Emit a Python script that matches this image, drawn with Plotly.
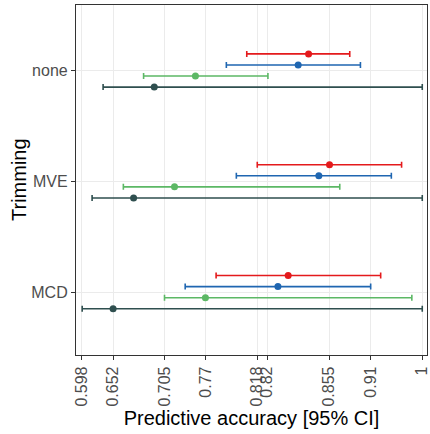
import plotly.graph_objects as go

# Categories (bottom to top)
categories = ["MCD", "MVE", "none"]

# Series names and colours
series = ["s1", "s2", "s3", "s4"]
colors = ["#E41A1C", "#1F66B1", "#5CB865", "#2F4F4F"]

# Point estimates per series, order MCD, MVE, none
est = {
    "s1": [0.8417, 0.8905, 0.8658],
    "s2": [0.8296, 0.8779, 0.8535],
    "s3": [0.7440, 0.7075, 0.7322],
    "s4": [0.6350, 0.6592, 0.6836],
}
lower = {
    "s1": [0.7566, 0.8052, 0.7928],
    "s2": [0.7201, 0.7805, 0.7687],
    "s3": [0.6957, 0.6471, 0.6710],
    "s4": [0.5985, 0.6102, 0.6232],
}
upper = {
    "s1": [0.9509, 0.9756, 0.9144],
    "s2": [0.9391, 0.9635, 0.9270],
    "s3": [0.9877, 0.9026, 0.8178],
    "s4": [1.0, 1.0, 1.0],
}

# x tick positions and labels as displayed
tick_vals = [0.598, 0.635, 0.696, 0.744, 0.805, 0.817, 0.890, 0.939, 1.0]
tick_text = ["0.598", "0.652", "0.705", "0.77", "0.818", "0.82", "0.855", "0.91", "1"]

dodge = 0.1
fig = go.Figure()
n = len(series)
for i, s in enumerate(series):
    off = ((n - 1) / 2 - i) * dodge
    ys = [k + 1 + off for k in range(len(categories))]
    fig.add_trace(go.Scatter(
        x=est[s], y=ys, mode="markers",
        marker=dict(color=colors[i], size=7),
        error_x=dict(type="data", symmetric=False,
                     array=[u - e for u, e in zip(upper[s], est[s])],
                     arrayminus=[e - l for e, l in zip(est[s], lower[s])],
                     color=colors[i], thickness=1.6, width=3),
        showlegend=False, hoverinfo="skip", cliponaxis=False,
    ))

font = "Liberation Sans, Arial, sans-serif"
fig.update_layout(
    width=430, height=434,
    margin=dict(l=76, r=3, t=5, b=79),
    paper_bgcolor="white", plot_bgcolor="white",
    font=dict(family=font, color="#000000"),
    xaxis=dict(
        range=[0.5912, 1.0056], tickvals=tick_vals, ticktext=tick_text,
        tickangle=-90, tickfont=dict(size=16, color="#4D4D4D", family=font),
        ticklabeloverflow="allow",
        ticks="outside", ticklen=4, tickcolor="#333333", tickwidth=1,
        showgrid=True, gridcolor="#EBEBEB", gridwidth=1,
        showline=True, linecolor="#333333", linewidth=1.2, mirror=True,
        zeroline=False, automargin=False,
        title=dict(text="Predictive accuracy [95% CI]", font=dict(size=20, family=font), standoff=2),
    ),
    yaxis=dict(
        range=[0.433, 3.591], tickvals=[1, 2, 3], ticktext=categories,
        tickfont=dict(size=16, color="#4D4D4D", family=font),
        ticks="outside", ticklen=4, tickcolor="#333333", tickwidth=1,
        showgrid=True, gridcolor="#EBEBEB", gridwidth=1,
        showline=True, linecolor="#333333", linewidth=1.2, mirror=True,
        zeroline=False, automargin=False,
    ),
    annotations=[dict(
        text="Trimming", textangle=-90, showarrow=False,
        xref="paper", yref="paper", x=0, y=0.5, xanchor="center", yanchor="middle",
        xshift=-57, font=dict(size=20, family=font, color="#000000"),
    )],
)

fig.write_html("out.html", config={"displayModeBar": False},
               post_script="document.body.style.margin='0';")
